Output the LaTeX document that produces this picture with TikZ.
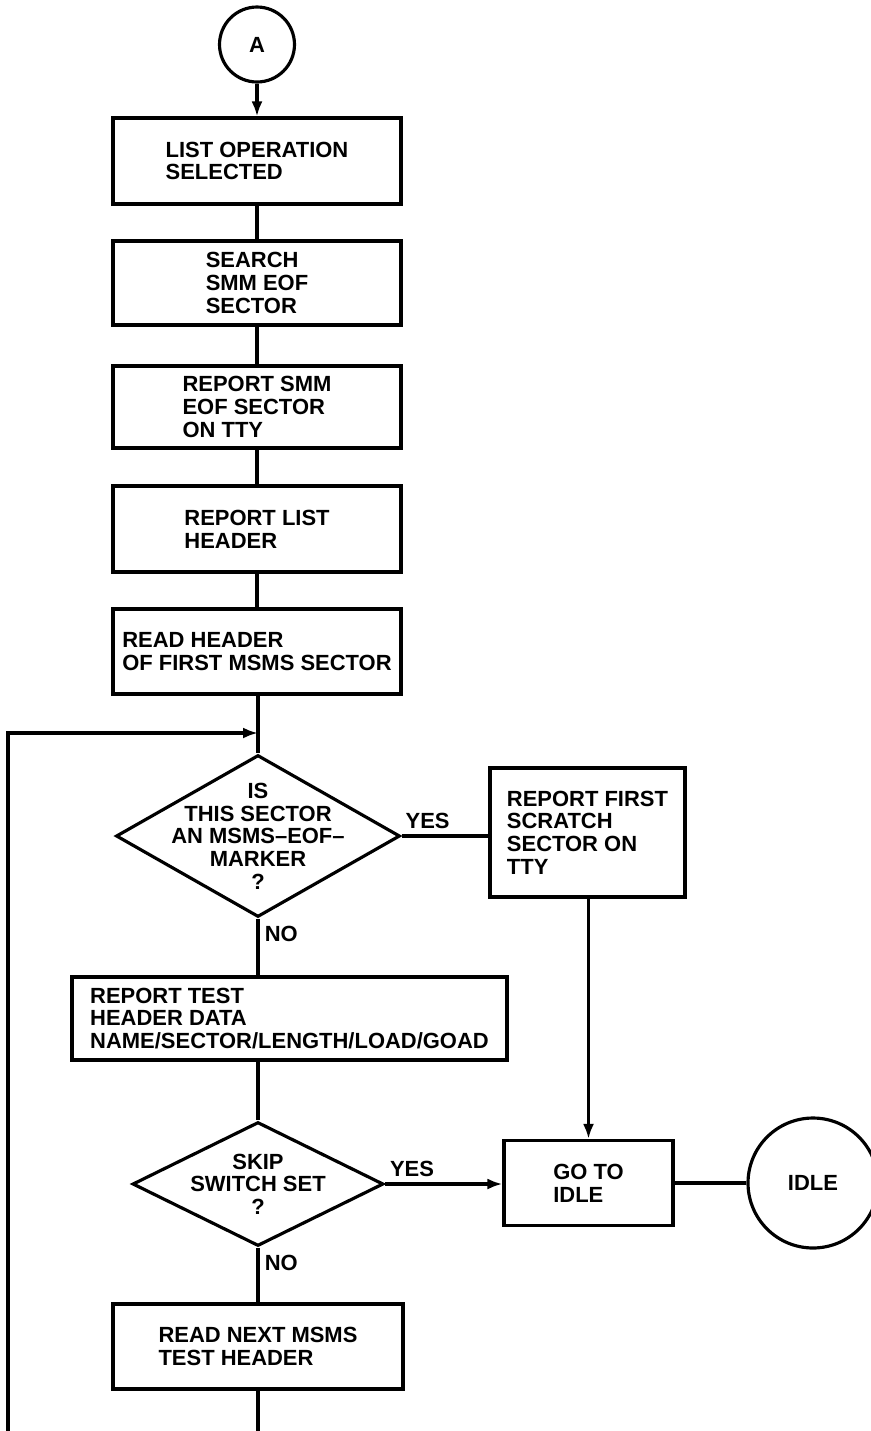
\documentclass[tikz,border=0pt]{standalone}
\usepackage{fontspec}
\setmainfont{Liberation Sans}
\usepackage{tikz}
\usetikzlibrary{shapes,arrows.meta,positioning,calc}

\begin{document}
\begin{tikzpicture}[x=0.02cm,y=-0.02cm,line width=1.8pt,
    font=\fontsize{12.5}{12.9}\selectfont\bfseries,
    box/.style={draw,rectangle,align=left,inner sep=0pt},
    decision/.style={draw,diamond,inner sep=0pt},
    term/.style={draw,circle,inner sep=0pt},
    conn/.style={line width=1.8pt},
    flow/.style={conn,-{Latex[length=0.3cm,width=0.22cm]}},
    lbl/.style={inner sep=3pt}]
\useasboundingbox (0,0) rectangle (871,1431);

\node[term,minimum size=1.5cm] (A) at (257,44.5) {A};
\node[box,minimum width=5.76cm,minimum height=1.72cm] (listsel) at (257,161) {LIST OPERATION\\SELECTED};
\node[box,minimum width=5.76cm,minimum height=1.68cm] (search) at (257,283) {SEARCH\\SMM EOF\\SECTOR};
\node[box,minimum width=5.76cm,minimum height=1.64cm] (repeof) at (257,407) {REPORT SMM\\EOF SECTOR\\ON TTY};
\node[box,minimum width=5.76cm,minimum height=1.72cm] (rephdr) at (257,529) {REPORT LIST\\HEADER};
\node[box,minimum width=5.76cm,minimum height=1.7cm] (readfirst) at (257,651.5) {READ HEADER\\OF FIRST MSMS SECTOR};

\node[decision,minimum width=5.68cm,minimum height=3.24cm] (ismarker) at (258,836) {};
\node[align=center] at (ismarker) {IS\\THIS SECTOR\\AN MSMS--EOF--\\MARKER\\?};
\node[box,minimum width=3.9cm,minimum height=2.58cm] (repscratch) at (587.5,832.5) {REPORT FIRST\\SCRATCH\\SECTOR ON\\TTY};

\node[box,minimum width=8.7cm,minimum height=1.66cm] (reptest) at (289.5,1018.5) {REPORT TEST\\HEADER DATA\\NAME/SECTOR/LENGTH/LOAD/GOAD};

\node[decision,minimum width=5.02cm,minimum height=2.48cm] (skipset) at (258,1184) {};
\node[align=center] at (skipset) {SKIP\\SWITCH SET\\?};
\node[box,minimum width=3.38cm,minimum height=1.7cm] (goidle) at (588.5,1183) {GO TO\\IDLE};
\node[term,minimum size=2.6cm] (idle) at (813,1183) {IDLE};

\node[box,minimum width=5.8cm,minimum height=1.7cm] (readnext) at (258,1346.5) {READ NEXT MSMS\\TEST HEADER};

\coordinate (join) at (258,733);
\coordinate (loopin) at (8,1431);
\coordinate (out) at (258,1431);

\draw[flow] (A) -- (listsel);
\draw[conn] (listsel) -- (search);
\draw[conn] (search) -- (repeof);
\draw[conn] (repeof) -- (rephdr);
\draw[conn] (rephdr) -- (readfirst);
\draw[conn] (readfirst.south -| ismarker.north) -- (ismarker.north);
\draw[flow] (loopin) |- (join);

\draw[conn] (ismarker.east) -- node[lbl,pos=0.3,above] {YES} (repscratch.west |- ismarker.east);
\draw[conn] (ismarker.south) -- node[lbl,pos=0.27,right] {NO} (ismarker.south |- reptest.north);
\draw[flow] (repscratch.south -| goidle.north) -- (goidle.north);

\draw[conn] (reptest.south -| skipset.north) -- (skipset.north);
\draw[flow] (skipset.east) -- node[lbl,pos=0.23,above] {YES} (goidle.west |- skipset.east);
\draw[conn] (goidle.east) -- (idle.west);
\draw[conn] (skipset.south) -- node[lbl,pos=0.28,right] {NO} (readnext.north);
\draw[conn] (readnext.south) -- (out);
\end{tikzpicture}
\end{document}
